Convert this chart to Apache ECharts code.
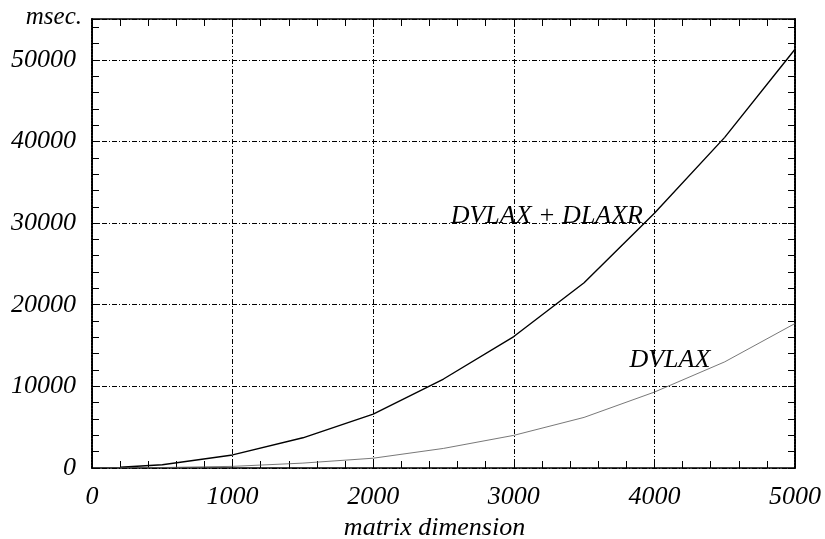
<!DOCTYPE html>
<html><head><meta charset="utf-8">
<script src="https://cdn.jsdelivr.net/npm/echarts@6/dist/echarts.min.js"></script>
<style>html,body{margin:0;padding:0;background:#fff}#c{width:825px;height:539px}</style>
</head><body><div id="c"></div>
<script>
var dims = [200, 500, 1000, 1500, 2000, 2500, 3000, 3500, 4000, 4500, 5000];
var combined = [100, 400, 1600, 3700, 6600, 10900, 16100, 22700, 31200, 40500, 51300];
var dvlax = [20, 60, 200, 600, 1200, 2400, 4000, 6200, 9300, 13000, 17700];
var xTicks = [0, 1000, 2000, 3000, 4000, 5000];
var yTicks = [0, 10000, 20000, 30000, 40000, 50000];
var labelCombined = 'DVLAX + DLAXR';
var labelDvlax = 'DVLAX';

var FONT = '"Liberation Serif", "Times New Roman", serif';
var txt = {fontFamily: FONT, fontStyle: 'italic', fontSize: 26, color: '#000'};
var gridDash = {color: '#000', width: 1, type: [5, 2, 1, 2]};

var chart = echarts.init(document.getElementById('c'));
chart.setOption({
  animation: false,
  grid: {left: 92, right: 30, top: 19, bottom: 71, containLabel: false, outerBoundsMode: 'none'},
  xAxis: [{
    type: 'value', min: 0, max: 5000, interval: 1000,
    name: 'matrix dimension', nameLocation: 'middle', nameGap: 44,
    nameTextStyle: Object.assign({padding: [0, 18, 0, 0]}, txt),
    axisLine: {show: true, lineStyle: {color: '#000', width: 1.5}},
    axisTick: {show: true, inside: true, length: 7, lineStyle: {color: '#000'}},
    minorTick: {show: true, splitNumber: 5, length: 7, lineStyle: {color: '#000'}},
    axisLabel: Object.assign({margin: 16, formatter: function (v) { return xTicks.indexOf(v) >= 0 ? String(v) : ''; }}, txt),
    splitLine: {show: true, lineStyle: gridDash}
  }, {
    type: 'value', min: 0, max: 5000, interval: 1000, position: 'top',
    axisLine: {show: true, onZero: false, lineStyle: {color: '#000', width: 1.5}},
    axisTick: {show: true, inside: true, length: 7, lineStyle: {color: '#000'}},
    minorTick: {show: true, splitNumber: 5, length: 7, lineStyle: {color: '#000'}},
    axisLabel: {show: false}, splitLine: {show: false}
  }],
  yAxis: [{
    type: 'value', min: 0, max: 55000, interval: 10000,
    name: 'msec.', nameLocation: 'end', nameGap: 2,
    nameTextStyle: Object.assign({align: 'right', verticalAlign: 'bottom', padding: [0, 10, -13, 0], fontSize: 25}, {fontFamily: FONT, fontStyle: 'italic', color: '#000'}),
    axisLine: {show: true, lineStyle: {color: '#000', width: 2, type: [2, 1]}},
    axisTick: {show: true, inside: true, length: 7, lineStyle: {color: '#000'}},
    minorTick: {show: true, splitNumber: 5, length: 7, lineStyle: {color: '#000'}},
    axisLabel: Object.assign({margin: 16, formatter: function (v) { return yTicks.indexOf(v) >= 0 ? String(v) : ''; }}, txt),
    splitLine: {show: true, lineStyle: gridDash}
  }, {
    type: 'value', min: 0, max: 55000, interval: 10000, position: 'right',
    axisLine: {show: true, onZero: false, lineStyle: {color: '#000', width: 2, type: [2, 1]}},
    axisTick: {show: true, inside: true, length: 7, lineStyle: {color: '#000'}},
    minorTick: {show: true, splitNumber: 5, length: 7, lineStyle: {color: '#000'}},
    axisLabel: {show: false}, splitLine: {show: false}
  }],
  series: [{
    type: 'line', name: labelCombined, symbol: 'none',
    data: dims.map(function (d, i) { return [d, combined[i]]; }),
    lineStyle: {color: '#000', width: 1.4},
    markPoint: {
      symbol: 'circle', symbolSize: 0,
      data: [{coord: [3235, 30800], label: Object.assign({show: true, formatter: labelCombined, position: 'inside'}, txt)}]
    }
  }, {
    type: 'line', name: labelDvlax, symbol: 'none',
    data: dims.map(function (d, i) { return [d, dvlax[i]]; }),
    lineStyle: {color: '#555', width: 0.8},
    markPoint: {
      symbol: 'circle', symbolSize: 0,
      data: [{coord: [4110, 13200], label: Object.assign({show: true, formatter: labelDvlax, position: 'inside'}, txt)}]
    }
  }]
});
</script></body></html>
